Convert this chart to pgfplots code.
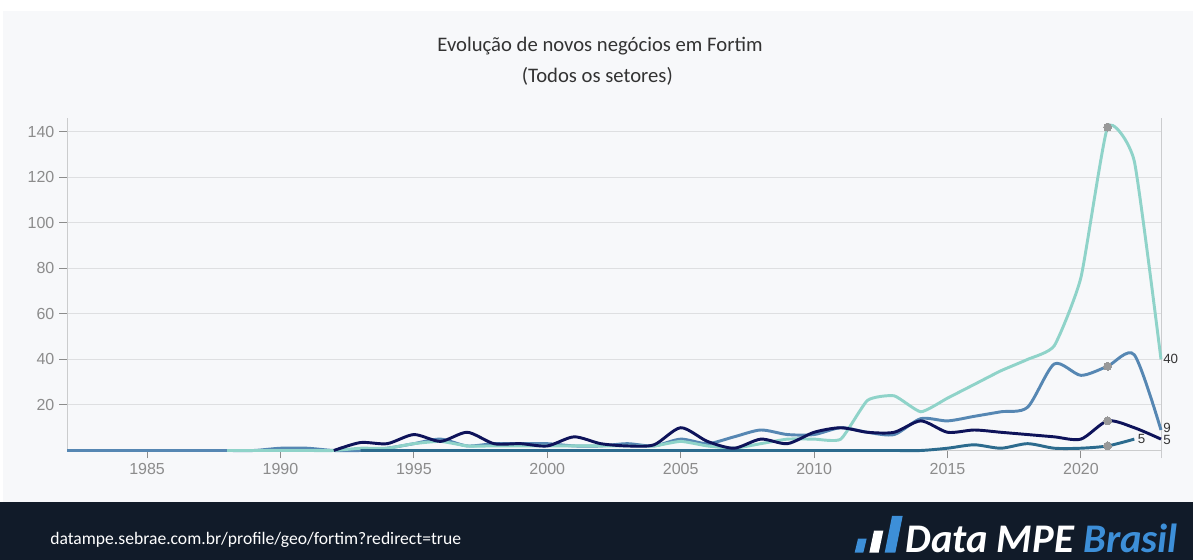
\documentclass[border=0pt]{standalone}
\usepackage{fontspec}
\setmainfont{Liberation Sans}
\newfontfamily\carlito{Carlito}
\usepackage{pgfplots}
\pgfplotsset{compat=1.18}
\definecolor{cA}{HTML}{8FD3C9}
\definecolor{cB}{HTML}{5687B3}
\definecolor{cC}{HTML}{0E135A}
\definecolor{cD}{HTML}{2C6B8E}
\definecolor{bgc}{HTML}{F7F8FA}
\definecolor{footc}{HTML}{111B29}
\definecolor{gridc}{HTML}{DEDFE1}
\definecolor{tickc}{HTML}{8C8C8C}
\definecolor{logoblue}{HTML}{3D8FD8}
\definecolor{mk}{HTML}{999999}
\begin{document}
\begin{tikzpicture}
\useasboundingbox (0,0) rectangle (894.75pt,420pt);
\fill[white] (0,0) rectangle (894.75pt,420pt);
\fill[bgc] (2.25pt,43.5pt) rectangle (894.75pt,411.75pt);
\fill[footc] (0,0) rectangle (894.75pt,43.5pt);
\node[font=\carlito\fontsize{15.5}{18}\selectfont, text=black!80] at (450pt,385.5pt) {Evolução de novos negócios em Fortim};
\node[font=\carlito\fontsize{15.5}{18}\selectfont, text=black!80] at (448pt,363pt) {(Todos os setores)};
\node[font=\carlito\fontsize{13.2}{15}\selectfont, text=white, anchor=west, inner sep=0pt] at (37.5pt,15pt) {datampe.sebrae.com.br/profile/geo/fortim?redirect=true};
\node[font=\carlito\bfseries\itshape\fontsize{30.5}{32}\selectfont, anchor=west, inner sep=0pt] at (679pt,16.5pt) {\textcolor{white}{Data MPE} \textcolor{logoblue}{Brasil}};
\fill[logoblue] (641pt,5.5pt) -- (647.5pt,5.5pt) -- (650pt,16pt) -- (643.5pt,16pt) -- cycle;
\fill[white] (652pt,5.5pt) -- (659pt,5.5pt) -- (662.5pt,22pt) -- (655.5pt,22pt) -- cycle;
\fill[logoblue] (663.5pt,5.5pt) -- (671.5pt,5.5pt) -- (677pt,33pt) -- (669pt,33pt) -- cycle;
\begin{axis}[
  at={(50.25pt,82.125pt)}, anchor=south west,
  scale only axis, width=820.5pt, height=249.375pt,
  xmin=1982, xmax=2023, ymin=0, ymax=146,
  clip=false,
  axis x line*=bottom, axis y line*=left,
  axis line style={draw=gridc!80!gray, line width=0.75pt},
  xtick={1985,1990,...,2020}, ytick={20,40,...,140},
  ymajorgrids, grid style={gridc, line width=0.75pt},
  tick style={tickc, line width=0.75pt},
  tick align=outside, major tick length=6pt,
  /pgf/number format/1000 sep={},
  /pgf/number format/assume math mode=true,
  ticklabel style={font=\fontsize{12}{14}\selectfont, text=tickc},
  every axis plot/.append style={line width=2.2pt, smooth, tension=0.45, mark=none},
]
\draw[gridc!80!gray, line width=0.75pt] ([yshift=-6pt]rel axis cs:1,0) -- (rel axis cs:1,1);
\addplot[cB] coordinates {(1982,0)(1983,0)(1984,0)(1985,0)(1986,0)(1987,0)(1988,0)(1989,0)(1990,1)(1991,1)(1992,0)(1993,0)(1994,1)(1995,3)(1996,5)(1997,2)(1998,3)(1999,3)(2000,3)(2001,2)(2002,2)(2003,3)(2004,2)(2005,5)(2006,3)(2007,6)(2008,9)(2009,7)(2010,7)(2011,10)(2012,8)(2013,7)(2014,14)(2015,13)(2016,15)(2017,17)(2018,19)(2019,38)(2020,33)(2021,37)(2022,42)(2023,9)};
\addplot[cA, tension=0.3] coordinates {(1988,0)(1989,0)(1990,0)(1991,0)(1992,0)(1993,1)(1994,1)(1995,3)(1996,4)(1997,2)(1998,2)(1999,2)(2000,2)(2001,2)(2002,2)(2003,2)(2004,2)(2005,4)(2006,2)(2007,1)(2008,3)(2009,5)(2010,5)(2011,5)(2012,22)(2013,24)(2014,17)(2015,23)(2016,29)(2017,35)(2018,40)(2019,46)(2020,76)(2021,142)(2022,127)(2023,40)};
\addplot[cD] coordinates {(1993,0)(1994,0)(1995,0)(1996,0)(1997,0)(1998,0)(1999,0)(2000,0)(2001,0)(2002,0)(2003,0)(2004,0)(2005,0)(2006,0)(2007,0)(2008,0)(2009,0)(2010,0)(2011,0)(2012,0)(2013,0)(2014,0)(2015,1)(2016,2.5)(2017,1)(2018,3)(2019,1)(2020,1)(2021,2)(2022,5)};
\addplot[cC] coordinates {(1992,0)(1993,3.5)(1994,3)(1995,7)(1996,4)(1997,8)(1998,3)(1999,3)(2000,2)(2001,6)(2002,3)(2003,2)(2004,2.5)(2005,10)(2006,4)(2007,1)(2008,5)(2009,3)(2010,8)(2011,10)(2012,8)(2013,8)(2014,13)(2015,8)(2016,9)(2017,8)(2018,7)(2019,6)(2020,5)(2021,13)(2022,10)(2023,5)};
\addplot[only marks, mark=*, mark size=3pt, mk, draw=none, line width=0pt] coordinates {(2021,142)(2021,37)(2021,13)(2021,2)};
\node[anchor=west, font=\fontsize{10}{12}\selectfont, text=black!80, inner sep=1.5pt] at (axis cs:2023,40) {40};
\node[anchor=west, font=\fontsize{10}{12}\selectfont, text=black!80, inner sep=1.5pt] at (axis cs:2023,9.8) {9};
\node[anchor=west, font=\fontsize{10}{12}\selectfont, text=black!80, inner sep=1.5pt] at (axis cs:2023,4.5) {5};
\node[anchor=west, font=\fontsize{10}{12}\selectfont, text=black!80, inner sep=2.5pt] at (axis cs:2022,5) {5};
\end{axis}
\end{tikzpicture}
\end{document}
